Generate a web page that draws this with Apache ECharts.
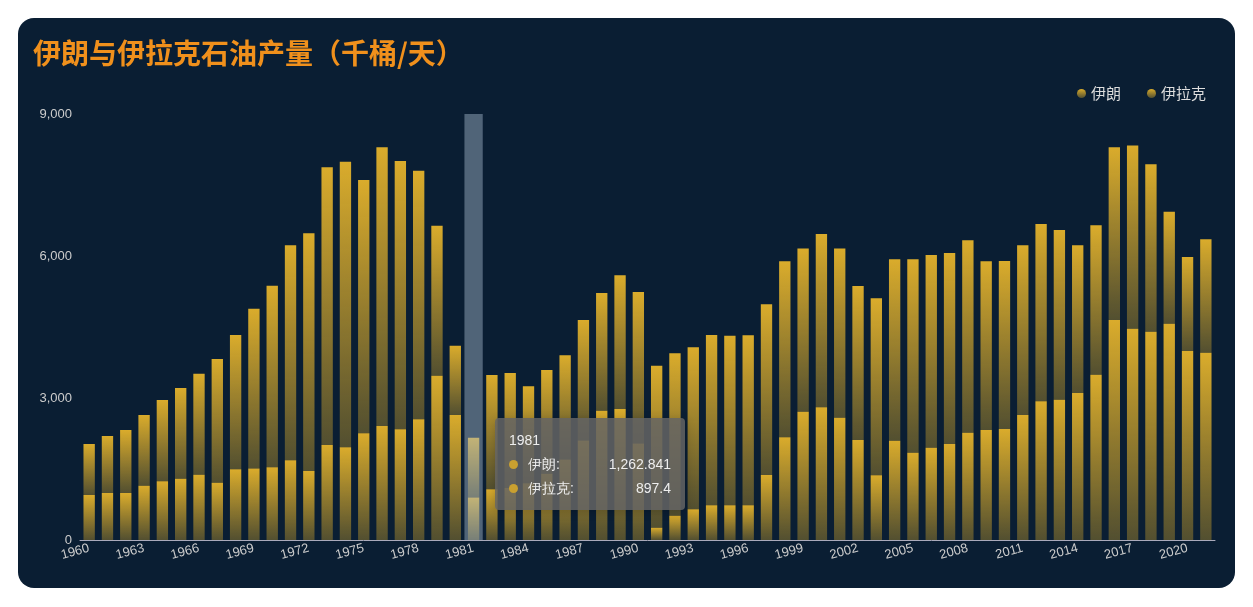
<!DOCTYPE html>
<html><head><meta charset="utf-8">
<script src="https://cdn.jsdelivr.net/npm/echarts@6/dist/echarts.min.js"></script>
<style>
html,body{margin:0;padding:0;background:#fff;width:1253px;height:607px;overflow:hidden}
#card{position:absolute;left:18px;top:18px;width:1217px;height:570px;background:#0a1e33;border-radius:16px;overflow:hidden}
#c{width:1217px;height:570px}
</style></head><body>
<div id="card"><div id="c"></div></div>
<script>
const years = [];
for (let y = 1960; y <= 2021; y++) years.push(String(y));
const iran = [1078,1204,1331,1493,1718,1915,2134,2613,2837,3379,3837,4542,5022,5868,6035,5352,5888,5669,5253,3169,1465,1262.841,2416,2428,2047,2192,2202,2548,2487,2825,3200,3423,3430,3423,3598,3584,3591,3606,3719,3444,3662,3571,3253,3739,3833,4086,4072,4036,4064,3564,3550,3585,3747,3585,3120,3156,3649,3867,3536,2365,1986,2395];
const iraq = [950,993,993,1148,1240,1296,1380,1211,1494,1508,1536,1684,1458,2007,1958,2254,2409,2339,2550,3472,2641,897.4,1070,1100,1200,1400,1700,2100,2732,2767,2040,260,514,648,733,733,733,1373,2169,2712,2804,2585,2113,1367,2098,1845,1950,2028,2268,2324,2345,2641,2930,2965,3106,3493,4648,4465,4402,4571,3993,3958];
const yTicks = [0,3000,6000,9000];
const grad = (a) => new echarts.graphic.LinearGradient(0,0,0,1,[{offset:0,color:'rgba(218,172,44,1)'},{offset:1,color:'rgba(218,172,44,'+a+')'}]);
const fmt = v => v.toLocaleString('en-US',{maximumFractionDigits:3});
const chart = echarts.init(document.getElementById('c'));
chart.setOption({
  backgroundColor:'transparent',
  title:{text:'伊朗与伊拉克石油产量（千桶/天）',left:10,top:16,textStyle:{color:'#f0901c',fontSize:28,fontWeight:'bold',fontFamily:'Noto Sans CJK SC'}},
  legend:{right:24,top:63,itemWidth:9,itemHeight:9,icon:'circle',itemGap:26,textStyle:{color:'#ddd',fontSize:15,fontFamily:'Noto Sans CJK SC'},data:['伊朗','伊拉克']},
  tooltip:{trigger:'axis',axisPointer:{type:'shadow',shadowStyle:{color:'rgba(150,170,190,0.5)'}},
    backgroundColor:'rgba(100,100,100,0.85)',borderWidth:0,padding:[10,14],textStyle:{color:'#eee',fontSize:14},
    formatter:ps=>{let s='<div style="line-height:24px">'+ps[0].name;ps.forEach(p=>{s+='<div style="display:flex;justify-content:space-between;width:162px"><span><span style="display:inline-block;width:9px;height:9px;border-radius:50%;background:#c9a030;margin-right:10px"></span>'+p.seriesName+':</span><span>'+fmt(p.value)+'</span></div>';});return s+'</div>';}},
  grid:{left:62,right:20,top:96,bottom:48},
  xAxis:{type:'category',data:years,axisLine:{lineStyle:{color:'#aab'}},axisTick:{alignWithLabel:true,interval:2,lineStyle:{color:'#aab'}},
    axisLabel:{interval:2,rotate:15,color:'#ccc',fontSize:13,margin:8}},
  yAxis:{type:'value',min:0,max:9000,interval:3000,splitLine:{show:false},axisLine:{show:false},
    axisLabel:{color:'#ccc',fontSize:13,formatter:v=>yTicks.includes(v)?v.toLocaleString('en-US'):''}},
  series:[
    {name:'伊朗',type:'bar',stack:'s',stackOrder:'seriesDesc',data:iran,barWidth:'62%',itemStyle:{color:grad(0.35)}},
    {name:'伊拉克',type:'bar',stack:'s',stackOrder:'seriesDesc',data:iraq,barWidth:'62%',itemStyle:{color:grad(0.35)}}
  ]
});
setTimeout(()=>chart.dispatchAction({type:'showTip',seriesIndex:0,dataIndex:21,position:[477,400]}),100);
</script></body></html>
